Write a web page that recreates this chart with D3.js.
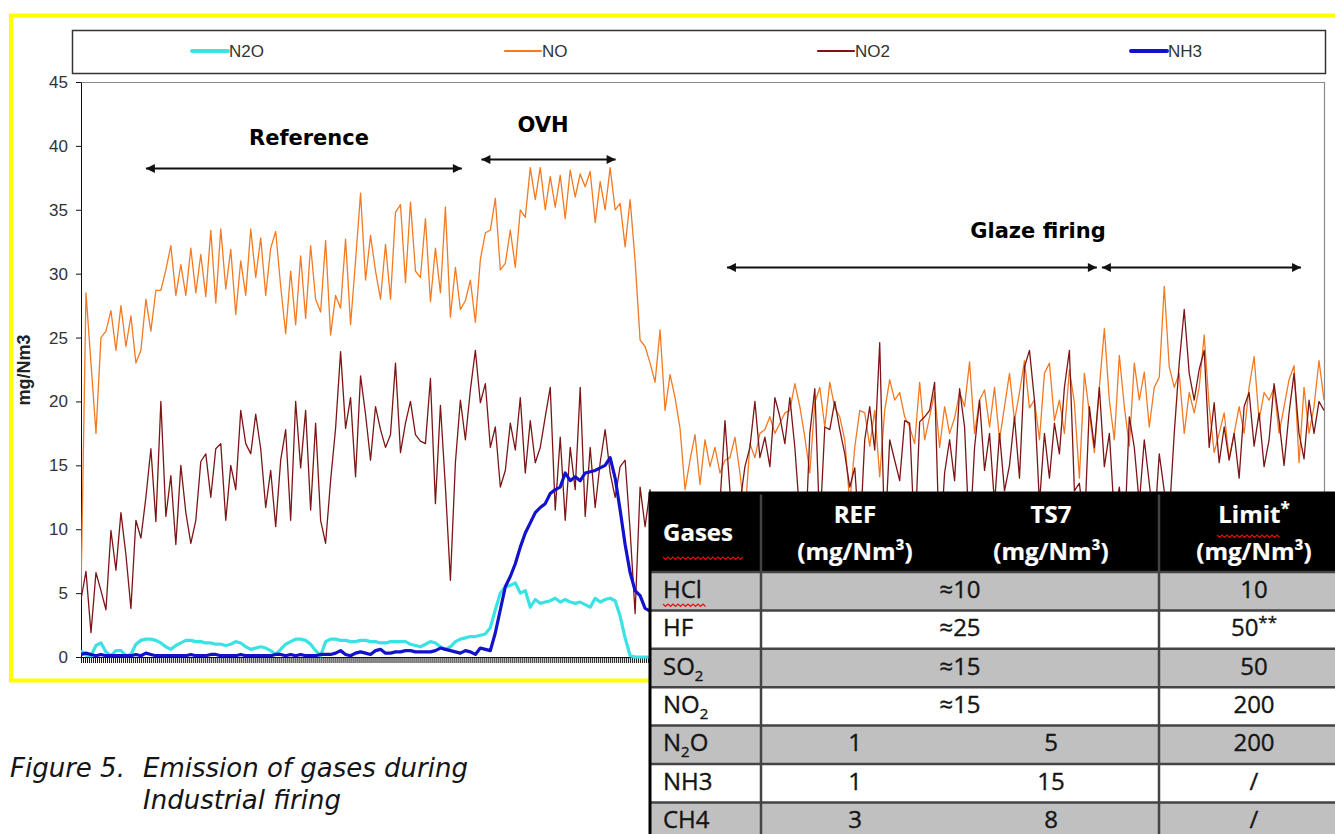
<!DOCTYPE html>
<html lang="en">
<head>
<meta charset="utf-8">
<style>
  body { margin: 0; background: #fff; }
  svg { display: block; font-family: 'Liberation Sans', Arial, sans-serif; }
  .axis text { fill: #333; font-size: 17px; }
  .axis path, .axis line { stroke: #111; }
  .legend text { fill: #333; font-size: 17px; }
  .note { font-family: 'DejaVu Sans', Verdana, sans-serif; font-weight: bold; font-size: 21px; fill: #000; }
  .tbl text { font-family: 'Open Sans', sans-serif; font-size: 24px; fill: #151515; stroke: #151515; stroke-width: 0.35px; }
  .tbl text.head { fill: #fff; stroke: #fff; stroke-width: 0.2px; font-weight: bold; }
  .caption { font-family: 'DejaVu Sans', Verdana, sans-serif; font-style: italic; font-size: 26px; fill: #151515; }
</style>
</head>
<body>
<svg width="1335" height="834"></svg>
<script src="https://d3js.org/d3.v7.min.js"></script>
<script>
// ---- data (mg/Nm3, one sample every ~5 px of the original x axis)
const seriesNames = ["N2O", "NO", "NO2", "NH3"];

const no = [
  5, 28.5, 23, 17.5, 25, 25.5, 27.1, 24, 27.5, 24.3,
  26.7, 23, 24, 28, 25.5, 28.7, 28.7, 30.3, 32.2, 28.3,
  30.7, 28.3, 32, 28.5, 31.5, 28.2, 33.4, 27.7, 33.5, 28.8,
  31.9, 26.8, 31, 28.3, 33.5, 29.7, 32.8, 28.3, 32, 33.3,
  29, 25.3, 30.2, 26, 31.4, 26.5, 32.2, 28, 27, 32.6,
  25.2, 28.3, 27.3, 32.7, 26, 31, 36.3, 29.5, 33, 30.2,
  28, 32.3, 28, 34.8, 35.4, 29.3, 35.6, 30.2, 29.7, 34.3,
  27.8, 32, 28.5, 35.2, 26.6, 30.5, 27.2, 27.9, 29.5, 26.2,
  31.1, 33.2, 33.4, 35.9, 30.3, 30.8, 33.4, 30.5, 35, 34.4,
  38.3, 35.8, 38.3, 35, 37.6, 35.2, 37.7, 34.3, 38.1, 36,
  37.8, 36.8, 38, 34, 37.2, 35, 38.3, 35, 35.5, 32.1,
  35.8, 31, 24.8, 24.3, 23, 21.5, 25.6, 19.3, 22.1, 20.3,
  17.9, 13.1, 15.4, 17.4, 13.5, 17, 14.9, 16.4, 14.4, 15.4,
  15.6, 17.2, 14.4, 11, 16.7, 15.6, 17.5, 17.8, 18.8, 17.5,
  18.3, 19.1, 19.3, 21.4, 19.6, 17.2, 14.4, 19.9, 21.1, 18,
  21.5, 19.5, 18.8, 17, 12, 16.4, 19.3, 19.1, 16.5, 19.3,
  14.1, 19.3, 21.7, 20.1, 20.7, 18.8, 18, 16.7, 21.5, 17,
  18.8, 20.7, 16.4, 19.6, 17.5, 18.7, 20.7, 19.6, 23.1, 17.5,
  20.1, 20.9, 18, 21.1, 17, 19.6, 22.2, 18.5, 20.7, 23.2,
  19.5, 20.1, 17, 22.2, 23, 18.5, 20.1, 17.5, 22.5, 19.9,
  14, 22.2, 19.1, 16, 21.1, 25.7, 20.1, 17, 23.6, 19.6,
  16.5, 23, 20.1, 22.3, 18, 21.1, 21.9, 29, 22.7, 21.1,
  22.2, 17.5, 20.7, 19.1, 21.1, 25.2, 19.6, 16, 17.5, 19.1,
  15.5, 17.5, 19.6, 17.5, 21.1, 23.5, 18.5, 20.7, 20.1, 21.1,
  17.5, 19.6, 21.7, 22.8, 15.2, 21.1, 17.5, 19.6, 23.2, 20.1
];

const no2 = [
  4.5, 6.7, 1.9, 6.6, 5.2, 3.7, 9.9, 6.8, 11.3, 8,
  3.8, 10.7, 9.3, 12.5, 16.3, 10.6, 20, 11, 14.2, 8.8,
  15, 11.3, 8.9, 10.7, 15.3, 15.9, 12.5, 16.3, 16.7, 10.7,
  15, 13.1, 19.3, 16.7, 15.9, 19, 16.3, 11.7, 14.6, 10.2,
  15.4, 17.8, 10.7, 20, 14.8, 19.3, 11.5, 18.3, 10.7, 8.9,
  13.8, 17.9, 23.9, 17.9, 20.3, 14.1, 22, 19, 15.4, 19.6,
  17.8, 16.4, 17.4, 23, 16, 18.3, 20, 17.4, 16.9, 16.7,
  21.8, 12, 19.7, 13.3, 6, 15.2, 20.1, 17, 20.9, 24,
  19.9, 21.4, 16.4, 18, 13.3, 14.6, 18.3, 16.2, 20.3, 14.4,
  18.5, 15.2, 16.4, 18.8, 21.1, 11.5, 17.2, 10.7, 16.4, 13.1,
  21.1, 11, 16.4, 11.7, 15.2, 17.8, 14.4, 12.5, 14.9, 15.4,
  9.9, 3.4, 13.3, 10.2, 13.1, 9, 11, 7, 10, 8,
  11, 6, 10, 8, 12, 9, 11, 7, 12, 18.5,
  13, 10, 12, 14.9, 16.4, 20, 15.6, 17.2, 14.9, 20.3,
  18.8, 16.7, 20.3, 16.4, 11, 8, 17.5, 21, 10, 18,
  17.8, 20, 17.8, 15.9, 13.3, 14.8, 9, 17, 19.6, 16.2,
  24.6, 9, 17, 15.4, 13.8, 18.5, 18.3, 9, 18.4, 18.8,
  19.3, 21.5, 8, 14.4, 17, 13.8, 21, 18, 9, 16.4,
  20.1, 14.6, 17.5, 12, 17.5, 13, 15, 18.8, 14, 22.7,
  24, 20.1, 12, 17.5, 14, 18.3, 15.9, 21.1, 24, 13,
  13.6, 10, 19.6, 16.4, 21.1, 14.9, 17.5, 11, 13.3, 9,
  18.8, 16.4, 12, 17, 13.6, 10, 15.9, 13, 11, 17.5,
  23, 27.2, 22.2, 20.1, 22.5, 24, 16.4, 19.9, 15.2, 18,
  15.4, 17.5, 14, 19.6, 20.7, 16.5, 19.1, 14.9, 17, 21.4,
  18.5, 15, 19.1, 22.2, 17.5, 15.5, 20.1, 17.5, 20, 19.3
];

// N2O and NH3 are only readable up to the table edge
const n2o = [
  0.5, 0.15, 0.1, 0.9, 1.1, 0.4, 0.1, 0.5, 0.5, 0.1,
  0.2, 1.0, 1.3, 1.4, 1.4, 1.3, 1.1, 0.8, 0.6, 0.9,
  1.1, 1.3, 1.3, 1.2, 1.2, 1.1, 1.1, 1.0, 1.0, 0.9,
  1.0, 1.2, 1.1, 0.8, 0.6, 0.7, 0.8, 0.7, 0.5, 0.2,
  0.6, 1.0, 1.2, 1.4, 1.4, 1.3, 1.0, 0.5, 0.1, 1.2,
  1.4, 1.4, 1.3, 1.3, 1.2, 1.2, 1.3, 1.3, 1.2, 1.2,
  1.1, 1.1, 1.2, 1.2, 1.2, 1.2, 1.0, 0.9, 0.8, 1.0,
  1.2, 1.1, 0.8, 0.6, 0.8, 1.2, 1.4, 1.5, 1.6, 1.6,
  1.7, 1.8, 2.3, 3.7, 5.0, 5.5, 5.6, 5.8, 5.0, 5.2,
  3.9, 4.5, 4.2, 4.3, 4.4, 4.6, 4.3, 4.5, 4.3, 4.2,
  4.3, 4.1, 3.9, 4.6, 4.3, 4.5, 4.6, 4.4, 3.2, 1.5,
  0.1, 0, 0, 0, 0, 0
];

const nh3 = [
  0.2, 0.3, 0.2, 0.1, 0.2, 0.1, 0.1, 0.1, 0.1, 0.1,
  0.1, 0.2, 0.1, 0.3, 0.2, 0.1, 0.1, 0.1, 0.1, 0.1,
  0.1, 0.1, 0.2, 0.1, 0.1, 0.1, 0.2, 0.2, 0.1, 0.1,
  0.1, 0.1, 0.2, 0.1, 0.1, 0.1, 0.1, 0.1, 0.1, 0.2,
  0.2, 0.1, 0.2, 0.1, 0.2, 0.1, 0.1, 0.1, 0.2, 0.2,
  0.2, 0.3, 0.5, 0.2, 0.1, 0.3, 0.4, 0.3, 0.2, 0.5,
  0.6, 0.3, 0.3, 0.4, 0.4, 0.5, 0.5, 0.4, 0.4, 0.4,
  0.4, 0.5, 0.7, 0.6, 0.5, 0.4, 0.3, 0.5, 0.4, 0.2,
  0.7, 0.6, 0.5, 1.9, 3.7, 5.5, 6.3, 7.3, 8.6, 9.7,
  10.5, 11.3, 11.7, 12.0, 12.8, 13.1, 13.3, 14.4, 13.8, 14.1,
  13.8, 14.4, 14.5, 14.6, 14.8, 15.0, 15.6, 14.0, 11.5, 8.8,
  6.6, 5.2, 4.8, 3.8, 3.6, 3.6
];

const yTicks = [0, 5, 10, 15, 20, 25, 30, 35, 40, 45];

// phases marked on the chart: [label, from sample, to sample, ...]
const phases = [
  ["Reference", 13, 76.3],
  ["OVH", 80.2, 107.1],
  ["Glaze firing", 129.4, 203.5, 204.5, 244.4]
];

// table pasted over the chart
const tableHead = ["Gases", "REF", "TS7", "Limit^*"];
const gases = ["HCl", "HF", "SO_2", "NO_2", "N_2O", "NH3", "CH4"];
const refValues = ["≈10", "≈25", "≈15", "≈15", "1", "1", "3"];
const ts7Values = ["", "", "", "", "5", "15", "8"];   // blank: one merged cell with REF
const limitValues = ["10", "50^**", "50", "200", "200", "/", "/"];

// ---- drawing
const svg = d3.select("svg");
const colors = { N2O: "#3ae2e4", NO: "#f37a22", NO2: "#7d1517", NH3: "#1212cc" };
const widths = { N2O: 3.2, NO: 1.3, NO2: 1.3, NH3: 3.2 };
const data = { N2O: n2o, NO: no, NO2: no2, NH3: nh3 };

const x = d3.scaleLinear().domain([0, no.length - 1]).range([81, 1324]);
const y = d3.scaleLinear().domain([0, 45]).range([657, 82]);

// yellow frame
svg.append("rect")
  .attr("x", 11).attr("y", 15.5).attr("width", 1400).attr("height", 665)
  .attr("fill", "none").attr("stroke", "#ffff00").attr("stroke-width", 4);

// legend box
const legend = svg.append("g").attr("class", "legend");
legend.append("rect")
  .attr("x", 72.5).attr("y", 30.5).attr("width", 1253).attr("height", 43)
  .attr("fill", "#fff").attr("stroke", "#333").attr("stroke-width", 1.5);
seriesNames.forEach((s, i) => {
  const lx = 192 + i * 313;
  legend.append("line")
    .attr("x1", lx).attr("x2", lx + 36).attr("y1", 51).attr("y2", 51)
    .attr("stroke", colors[s]).attr("stroke-width", widths[s] + 0.8)
    .attr("stroke-linecap", "round");
  legend.append("text").attr("x", lx + 37).attr("y", 57).text(s);
});

// plot area border
svg.append("path")
  .attr("d", `M${x.range()[0]},${y(45) + 0.5}H${x.range()[1] + 0.5}V${y(0)}`)
  .attr("fill", "none").attr("stroke", "#8a8a8a").attr("stroke-width", 1.2);

// axes
svg.append("g").attr("class", "axis")
  .attr("transform", `translate(${x.range()[0]},0)`)
  .call(d3.axisLeft(y).tickValues(yTicks).tickSize(5).tickSizeOuter(0).tickPadding(8));

svg.append("g").attr("class", "axis")
  .attr("transform", `translate(0,${y(0)})`)
  .call(d3.axisBottom(x).tickValues(d3.range(0, no.length - 1, 0.4)).tickSize(6).tickSizeOuter(0).tickFormat(""));

svg.append("text")
  .attr("transform", "translate(30,370) rotate(-90)")
  .attr("text-anchor", "middle")
  .attr("font-weight", "bold").attr("font-size", 18).attr("fill", "#222")
  .text("mg/Nm3");

// lines
svg.append("clipPath").attr("id", "plot")
  .append("rect").attr("x", 81).attr("y", 80).attr("width", 1244).attr("height", 584);

const line = d3.line().x((d, i) => x(i)).y(d => y(d));
svg.append("g").attr("clip-path", "url(#plot)")
  .selectAll("path")
  .data(seriesNames)
  .join("path")
    .attr("d", s => line(data[s]))
    .attr("fill", "none")
    .attr("stroke", s => colors[s])
    .attr("stroke-width", s => widths[s])
    .attr("stroke-linejoin", "round");

// phase annotations
const defs = svg.append("defs");
defs.append("marker")
  .attr("id", "head").attr("viewBox", "0 0 10 10")
  .attr("refX", 10).attr("refY", 5)
  .attr("markerWidth", 5.5).attr("markerHeight", 4.5)
  .attr("orient", "auto-start-reverse")
  .append("path").attr("d", "M0,0L10,5L0,10z").attr("fill", "#111");

const noteY = { "Reference": [145, 168.5], "OVH": [132, 159.5], "Glaze firing": [238, 267.5] };
const noteX = { "Reference": 309, "OVH": 543, "Glaze firing": 1038 };
phases.forEach(p => {
  const [label, ...ends] = p;
  const [ty, ay] = noteY[label];
  for (let k = 0; k < ends.length; k += 2) {
    svg.append("line")
      .attr("x1", x(ends[k])).attr("x2", x(ends[k + 1]))
      .attr("y1", ay).attr("y2", ay)
      .attr("stroke", "#111").attr("stroke-width", 2)
      .attr("marker-start", "url(#head)").attr("marker-end", "url(#head)");
  }
  svg.append("text").attr("class", "note")
    .attr("x", noteX[label]).attr("y", ty).attr("text-anchor", "middle").text(label);
});

// ---- table
function richText(t, s, small) {
  let shift = 0;
  s.split(/(_.|\^.+$)/).filter(p => p).forEach(p => {
    let d = 0, size = null, txt = p;
    if (p[0] === "_") { d = 6; size = small; txt = p.slice(1); }
    else if (p[0] === "^") { d = -8; size = small; txt = p.slice(1); }
    t.append("tspan").attr("dy", d - shift).attr("font-size", size).text(txt);
    shift = d;
  });
}

function squiggle(x1, x2, yy) {
  let d = `M${x1},${yy}`;
  for (let xx = x1 + 2.5, k = 0; xx <= x2; xx += 2.5, k++) d += `L${xx},${yy + (k % 2 ? 0 : 2.5)}`;
  svg.append("path").attr("d", d).attr("fill", "none").attr("stroke", "#e01010").attr("stroke-width", 1.2);
}

const colX = [649, 761, 1159, 1345];
const colMid = [663, 855, 1051, 1254];
const headTop = 492, headH = 80, rowH = 38.4;
const tbl = svg.append("g").attr("class", "tbl");

tbl.append("rect")
  .attr("x", colX[0]).attr("y", headTop).attr("width", colX[3] - colX[0]).attr("height", headH)
  .attr("fill", "#000");

gases.forEach((g, i) => {
  const y0 = headTop + headH + i * rowH;
  tbl.append("rect")
    .attr("x", colX[0]).attr("y", y0).attr("width", colX[3] - colX[0]).attr("height", rowH)
    .attr("fill", i % 2 ? "#ffffff" : "#c0c0c0");
  const by = y0 + rowH / 2 + 6.5;
  richText(tbl.append("text").attr("x", colMid[0]).attr("y", by), g, "15px");
  if (ts7Values[i] === "") {
    tbl.append("text").attr("x", (colX[1] + colX[2]) / 2).attr("y", by)
      .attr("text-anchor", "middle").text(refValues[i]);
  } else {
    tbl.append("text").attr("x", colMid[1]).attr("y", by).attr("text-anchor", "middle").text(refValues[i]);
    tbl.append("text").attr("x", colMid[2]).attr("y", by).attr("text-anchor", "middle").text(ts7Values[i]);
  }
  richText(tbl.append("text").attr("x", colMid[3]).attr("y", by).attr("text-anchor", "middle"),
    limitValues[i], "17px");
});

// grid lines of the table
const bottom = headTop + headH + gases.length * rowH;
d3.range(gases.length + 1).forEach(i => {
  const yy = headTop + headH + i * rowH;
  tbl.append("line").attr("x1", colX[0]).attr("x2", colX[3]).attr("y1", yy).attr("y2", yy)
    .attr("stroke", "#444").attr("stroke-width", 2.5);
});
[colX[1], colX[2]].forEach(cx => {
  tbl.append("line").attr("x1", cx).attr("x2", cx).attr("y1", headTop).attr("y2", bottom)
    .attr("stroke", "#444").attr("stroke-width", 2.5);
});
tbl.append("line").attr("x1", colX[0] + 1).attr("x2", colX[0] + 1).attr("y1", headTop).attr("y2", bottom)
  .attr("stroke", "#000").attr("stroke-width", 3);
tbl.append("line").attr("x1", colX[0]).attr("x2", colX[3]).attr("y1", headTop + 1).attr("y2", headTop + 1)
  .attr("stroke", "#000").attr("stroke-width", 3);

// header text
tbl.append("text").attr("class", "head").attr("x", colMid[0]).attr("y", 541).text(tableHead[0]);
[1, 2, 3].forEach(c => {
  richText(tbl.append("text").attr("class", "head").attr("x", colMid[c]).attr("y", 523)
    .attr("text-anchor", "middle"), tableHead[c], "17px");
  tbl.append("text").attr("class", "head").attr("x", colMid[c]).attr("y", 560)
    .attr("text-anchor", "middle").text("(mg/Nm³)");
});

// spell-check marks as they appear in the pasted table
squiggle(663, 745, 557);
squiggle(663, 706, 604);
squiggle(1217, 1280, 535);

// caption
svg.append("text").attr("class", "caption").attr("x", 10).attr("y", 777).text("Figure 5.");
svg.append("text").attr("class", "caption").attr("x", 143).attr("y", 777).text("Emission of gases during");
svg.append("text").attr("class", "caption").attr("x", 143).attr("y", 809).text("Industrial firing");
</script>
</body>
</html>
